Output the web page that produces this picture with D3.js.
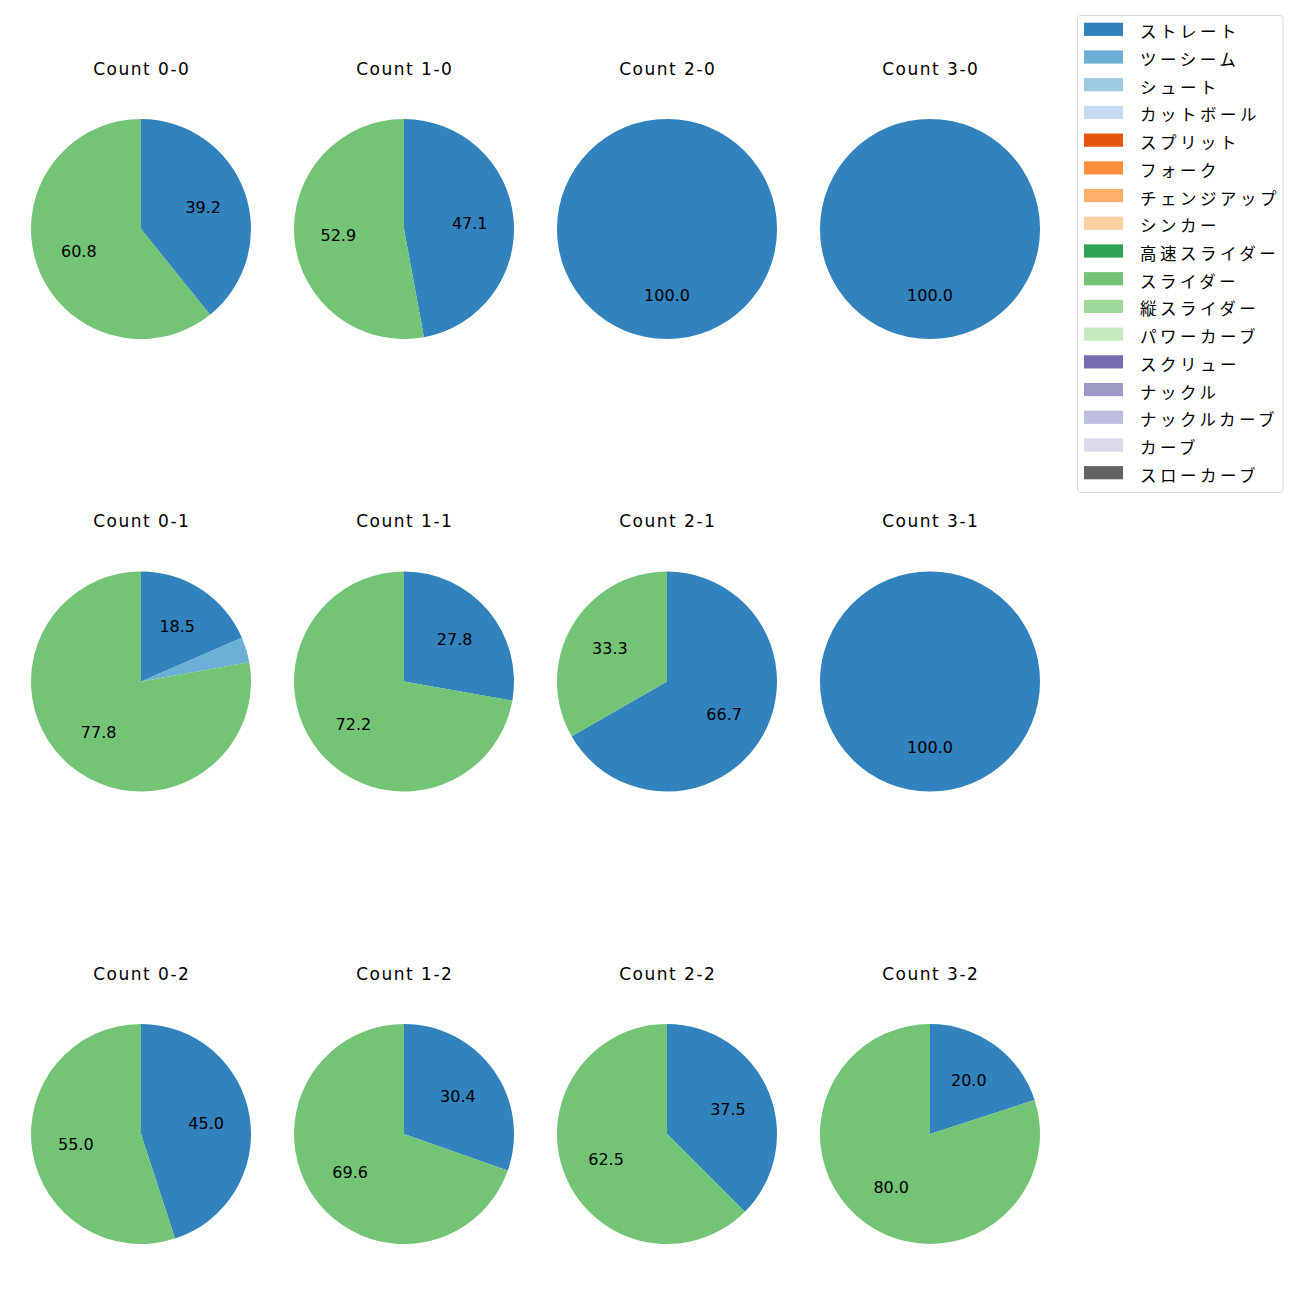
<!DOCTYPE html>
<html><head><meta charset="utf-8">
<script src="https://cdn.jsdelivr.net/npm/d3@7"></script>
<style>body{margin:0;background:#fff;} svg{display:block;}</style>
</head><body>
<script>
const pitchTypes = ["ストレート","ツーシーム","シュート","カットボール","スプリット","フォーク","チェンジアップ","シンカー","高速スライダー","スライダー","縦スライダー","パワーカーブ","スクリュー","ナックル","ナックルカーブ","カーブ","スローカーブ"];
const pitchColors = ["#3182bd","#6baed6","#9ecae1","#c6dbef","#e6550d","#fd8d3c","#fdae6b","#fdd0a2","#31a354","#74c476","#a1d99b","#c7e9c0","#756bb1","#9e9ac8","#bcbddc","#dadaeb","#636363"];
const counts = ["0-0","1-0","2-0","3-0","0-1","1-1","2-1","3-1","0-2","1-2","2-2","3-2"];
const straightPct = [39.2,47.1,100,100,18.5,27.8,66.7,100,45.0,30.4,37.5,20.0];
const twoseamPct  = [0,0,0,0,3.7,0,0,0,0,0,0,0];
const sliderPct   = [60.8,52.9,0,0,77.8,72.2,33.3,0,55.0,69.6,62.5,80.0];

const W = 1300, H = 1300;
const svg = d3.select("body").append("svg").attr("width", W).attr("height", H);
const latin = "'DejaVu Sans', sans-serif";
const jp = "'Noto Sans CJK JP', sans-serif";

const colX = d3.scalePoint().domain([0,1,2,3]).range([141, 930]);
const rowY = d3.scalePoint().domain([0,1,2]).range([229, 1134]);
const R = 110;
const color = d3.scaleOrdinal().domain(pitchTypes).range(pitchColors);
const pie = d3.pie().sort(null).value(d => d.v);
const arc = d3.arc().innerRadius(0).outerRadius(R);
const labelArc = d3.arc().innerRadius(R*0.6).outerRadius(R*0.6);

counts.forEach((c, i) => {
  const col = i % 4, row = Math.floor(i / 4);
  const cx = colX(col), cy = rowY(row);
  const data = [
    {k: pitchTypes[0], v: straightPct[i]},
    {k: pitchTypes[1], v: twoseamPct[i]},
    {k: pitchTypes[9], v: sliderPct[i]}
  ].filter(d => d.v > 0);
  const g = svg.append("g").attr("transform", `translate(${cx},${cy})`);
  const arcs = pie(data);
  g.selectAll("path").data(arcs).join("path")
    .attr("d", arc).attr("fill", d => color(d.data.k));
  g.selectAll("text").data(arcs.filter(d => d.data.v >= 5)).join("text")
    .attr("transform", d => `translate(${labelArc.centroid(d)})`)
    .attr("text-anchor", "middle").attr("dy", "0.36em")
    .attr("font-family", latin).attr("font-size", "16px").attr("fill", "#000")
    .text(d => d.data.v.toFixed(1));
  svg.append("text").attr("x", cx + 0.75).attr("y", cy - 154.5)
    .attr("text-anchor", "middle")
    .attr("font-family", latin).attr("font-size", "17px").attr("letter-spacing", "1.5px")
    .attr("fill", "#000")
    .text("Count " + c);
});

// legend
const lg = svg.append("g");
lg.append("rect").attr("x", 1077.5).attr("y", 15.5).attr("width", 205.5).attr("height", 477)
  .attr("rx", 3).attr("fill", "#fff").attr("stroke", "#d9d9d9");
const ly = d3.scaleLinear().domain([0, pitchTypes.length - 1]).range([29.3, 472.7]);
pitchTypes.forEach((p, i) => {
  lg.append("rect").attr("x", 1084).attr("y", ly(i) - 6.6).attr("width", 39).attr("height", 13.2)
    .attr("fill", color(p));
  lg.append("text").attr("x", 1140).attr("y", ly(i) + 2).attr("dominant-baseline", "central")
    .attr("font-family", jp).attr("font-size", "16.5px").attr("letter-spacing", "3.5px")
    .attr("fill", "#000").text(p);
});
</script>
</body></html>
